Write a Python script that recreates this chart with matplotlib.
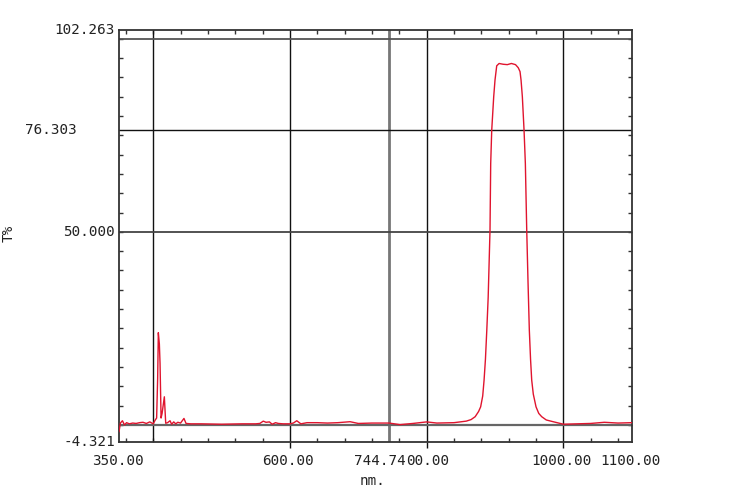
import numpy as np
import matplotlib
matplotlib.use("Agg")
import matplotlib.pyplot as plt
import matplotlib.transforms as mtransforms

# spectrum (nm, T%)
wavelength = [350, 352, 355, 358, 361, 365, 370, 375, 380, 385, 390, 395, 400, 403,
              405, 406.5, 407.5, 409, 410, 411.5, 413, 416.3, 418.3, 421, 424.6, 427,
              430, 433, 436, 440, 445, 448, 455, 470, 500, 530, 550, 556, 561, 565,
              570, 574, 579, 583, 590, 600, 605, 610, 616, 625, 640, 655, 670, 688,
              700, 720, 745, 761, 780, 800, 815, 840, 858, 865, 871, 876, 879, 882,
              884, 886, 888, 890, 892.7, 893.7, 895.2, 898.1, 900, 902.5, 906, 912,
              918, 924, 930, 934, 936.6, 938.1, 940, 942.5, 944.4, 946.4, 948.3, 950.2,
              952, 953.7, 956, 960, 964, 968.3, 975, 985, 1000, 1020, 1040, 1060,
              1080, 1100]
transmit = [-1.7, 0.5, 1.1, 0.0, 0.6, 0.3, 0.5, 0.4, 0.6, 0.7, 0.4, 0.8, 0.3, 1.3,
            1.8, 12.0, 23.9, 21.0, 16.0, 1.8, 3.0, 7.3, 0.45, 0.6, 1.1, 0.2,
            0.8, 0.3, 0.7, 0.5, 1.7, 0.4, 0.3, 0.3, 0.2, 0.3, 0.3, 0.4, 1.0, 0.7,
            0.8, 0.2, 0.6, 0.4, 0.3, 0.3, 0.5, 1.1, 0.3, 0.6, 0.6, 0.5, 0.6, 0.85,
            0.4, 0.5, 0.5, 0.1, 0.4, 0.8, 0.5, 0.6, 1.0, 1.4, 2.15, 3.5, 4.7, 7.5,
            11.6, 17.0, 24.6, 33.0, 50.5, 67.7, 76.3, 85.0, 89.3, 93.0, 93.6, 93.4,
            93.3, 93.6, 93.3, 92.5, 91.5, 89.3, 85.0, 76.3, 67.7, 50.5, 37.0, 24.6,
            17.0, 11.6, 8.0, 4.7, 3.0, 2.15, 1.3, 0.85, 0.2, 0.3, 0.4, 0.7,
            0.5, 0.6]

xmin, xmax = 350, 1100
ymin, ymax = -4.321, 102.263

# cursor / grid lines
vlines = [400, 600, 744.74, 800, 1000]
hlines = [0, 50.0, 76.303, 100]

# the 744.74 cursor label hides the "8" of 800.00 on the printout
xlabels_val = [350, 600, 744.74, 800, 1000, 1100]
xlabels_txt = ["350.00", "600.00", "744.74", "00.00", "1000.00", "1100.00"]
ylabels_val = [-4.321, 50.0, 76.303, 102.263]
ylabels_txt = ["-4.321", "50.000", "76.303", "102.263"]

fig = plt.figure(figsize=(7.5, 4.93), dpi=100)
ax = fig.add_axes([0.1587, 0.1041, 0.6836, 0.835])

ax.plot(wavelength, transmit, color="#e0142e", lw=1.0, zorder=3)

vstyle = {400: ("#111111", 1.0), 600: ("#111111", 1.0), 744.74: ("#777777", 2.0),
          800: ("#111111", 1.0), 1000: ("#111111", 1.0)}
for v in vlines:
    c, w = vstyle[v]
    ax.axvline(v, color=c, lw=w, zorder=2)
hstyle = {0: ("#666666", 1.6), 50.0: ("#444444", 1.3), 76.303: ("#111111", 1.0),
          100: ("#555555", 1.3)}
for h in hlines:
    c, w = hstyle[h]
    ax.axhline(h, color=c, lw=w, zorder=2)

ax.set_xlim(xmin, xmax)
ax.set_ylim(ymin, ymax)

for s in ax.spines.values():
    s.set_color("#333333")
    s.set_linewidth(1.3)

ax.set_xticks([600, 800, 1000])
ax.set_xticks(np.arange(360, 1100, 40), minor=True)
ax.set_yticks([])
ax.set_yticks(np.arange(0, 101, 5), minor=True)
ax.tick_params(which="major", axis="x", direction="out", length=4, width=1,
               color="#111111", labelbottom=False, top=False)
ax.tick_params(which="minor", direction="in", length=3, width=1, color="#333333",
               top=True, bottom=True, left=True, right=True)

font = dict(family="DejaVu Sans Mono", fontsize=10.3, color="#222222")

# x labels: (ha, pixel nudge) per label
xplace = {"350.00": ("center", -1.5), "600.00": ("center", -2),
          "744.74": ("right", 17), "00.00": ("left", -21),
          "1000.00": ("center", -2), "1100.00": ("center", -1.5)}
for v, t in zip(xlabels_val, xlabels_txt):
    ha, dx = xplace[t]
    tr = ax.get_xaxis_transform() + mtransforms.ScaledTranslation(
        dx / 100, 0, fig.dpi_scale_trans)
    ax.text(v, -0.048, t, transform=tr, ha=ha, va="center", clip_on=False, **font)

for v, t in zip(ylabels_val, ylabels_txt):
    if t == "76.303":
        ax.text(-0.133, v, t, transform=ax.get_yaxis_transform(), ha="center",
                va="center", **font)
    else:
        ax.text(-0.008, v, t, transform=ax.get_yaxis_transform(), ha="right",
                va="center", **font)

ax.text(0.494, -0.095, "nm.", transform=ax.transAxes, ha="center", va="center", **font)
ax.text(-0.215, 50.0 - 0.3, "T%", transform=ax.get_yaxis_transform(), rotation=90,
        ha="center", va="center", **font)

fig.savefig("out.png", dpi=100)
